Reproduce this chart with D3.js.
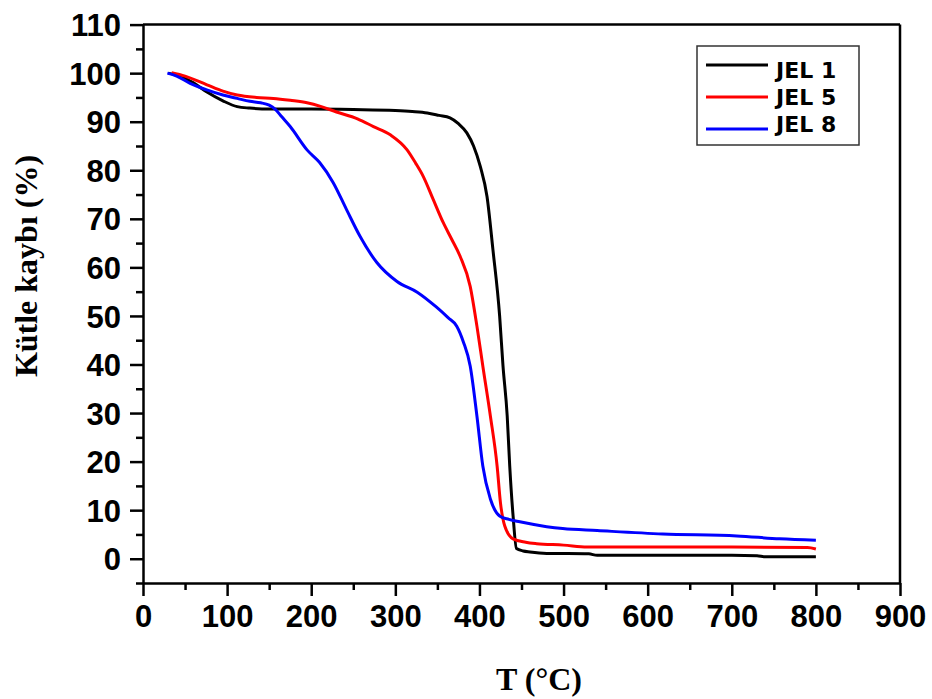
<!DOCTYPE html>
<html>
<head>
<meta charset="utf-8">
<script src="https://cdn.jsdelivr.net/npm/d3@7"></script>
<style>
  body { margin: 0; background: #fff; }
  .tick-label { font-family: "Liberation Sans", Arial, sans-serif; font-weight: bold; font-size: 31px; fill: #000; }
  .title { font-family: "Liberation Serif", "Times New Roman", serif; font-weight: bold; font-size: 32px; fill: #000; }
  .legend-text { font-family: "DejaVu Sans", Verdana, sans-serif; font-weight: bold; font-size: 22px; fill: #000; }
</style>
</head>
<body>
<svg id="chart" width="932" height="699"></svg>
<script>
// series names and colours
var seriesNames = ["JEL 1", "JEL 5", "JEL 8"];
var seriesColors = ["#000000", "#ff0000", "#0000ff"];

// JEL 1 (black)
var jel1T = [30, 45, 60, 76, 95, 112, 127, 150, 200, 250, 300, 320, 338, 352, 365, 375, 385, 393, 401, 409, 416, 424, 428, 433, 436, 440, 444, 452, 460, 480, 530, 540, 600, 700, 730, 740, 800];
var jel1V = [100, 99.3, 98, 96.1, 94.3, 93.1, 92.8, 92.6, 92.6, 92.5, 92.3, 92.1, 91.8, 91.3, 90.8, 89.6, 87.7, 85, 80.8, 74.6, 63.7, 50, 39.7, 29.4, 19.1, 8.8, 2.1, 1.6, 1.4, 1.1, 1.0, 0.7, 0.7, 0.7, 0.6, 0.4, 0.4];

// JEL 5 (red)
var jel5T = [34, 50, 76, 95, 112, 135, 155, 175, 195, 212, 230, 255, 274, 294, 314, 324, 333, 345, 357, 367, 377, 389, 397, 404, 413, 421, 425, 430, 440, 455, 468, 500, 528, 600, 700, 790, 800];
var jel5V = [100.1, 99.4, 97.6, 96.3, 95.5, 95.0, 94.8, 94.4, 93.9, 93.1, 92.0, 90.6, 89.0, 87.3, 84.2, 81.5, 78.8, 74, 69.2, 65.8, 62.3, 56.1, 47.9, 39.7, 29.4, 19.1, 11.5, 6.8, 4.1, 3.4, 3.1, 2.8, 2.4, 2.4, 2.4, 2.3, 2.0];

// JEL 8 (blue)
var jel8T = [29, 40, 56, 75, 95, 112, 127, 140, 150, 157, 165, 175, 195, 210, 226, 242, 258, 278, 302, 326, 349, 363, 373, 381, 389, 397, 404, 413, 424, 435, 448, 480, 499, 540, 618, 706, 757, 800];
var jel8V = [100, 99.4, 97.9, 96.6, 95.5, 94.8, 94.2, 93.9, 93.4, 92.6, 91.0, 89.0, 84.2, 81.6, 77.5, 71.9, 66.4, 61.0, 57.1, 54.9, 51.8, 49.6, 47.9, 44.6, 39.7, 29.4, 19.1, 12.3, 8.8, 8.1, 7.6, 6.6, 6.2, 5.8, 5.1, 4.7, 4.1, 3.8];

// tick values
var xTicks = [0, 100, 200, 300, 400, 500, 600, 700, 800, 900];
var xMinorTicks = [50, 150, 250, 350, 450, 550, 650, 750, 850];
var yTicks = [0, 10, 20, 30, 40, 50, 60, 70, 80, 90, 100, 110];
var yMinorTicks = [-5, 5, 15, 25, 35, 45, 55, 65, 75, 85, 95, 105];

var xLabel = "T (\u00B0C)";
var yLabel = "K\u00FCtle kayb\u0131 (%)";

var plotLeft = 143, plotRight = 900, plotTop = 24.6, plotBottom = 583;

var svg = d3.select("#chart");
svg.append("rect").attr("width", 932).attr("height", 699).attr("fill", "#fff");

var x = d3.scaleLinear().domain([0, 900]).range([plotLeft, plotRight]);
var y = d3.scaleLinear().domain([-5, 110]).range([plotBottom, plotTop]);

// frame top + right
svg.append("line").attr("x1", plotLeft).attr("x2", plotRight).attr("y1", plotTop).attr("y2", plotTop)
    .attr("stroke", "#000").attr("stroke-width", 2.5);
svg.append("line").attr("x1", plotRight).attr("x2", plotRight).attr("y1", plotTop).attr("y2", plotBottom)
    .attr("stroke", "#000").attr("stroke-width", 2.5);

// minor ticks
svg.append("g").attr("transform", "translate(0," + plotBottom + ")")
    .call(d3.axisBottom(x).tickValues(xMinorTicks).tickSize(7).tickFormat("").tickSizeOuter(0))
    .call(function(g) { g.select(".domain").remove(); })
    .selectAll("line").attr("stroke-width", 2.5);
svg.append("g").attr("transform", "translate(" + plotLeft + ",0)")
    .call(d3.axisLeft(y).tickValues(yMinorTicks).tickSize(7).tickFormat("").tickSizeOuter(0))
    .call(function(g) { g.select(".domain").remove(); })
    .selectAll("line").attr("stroke-width", 2.5);

// major axes
var xAxis = svg.append("g").attr("transform", "translate(0," + plotBottom + ")")
    .call(d3.axisBottom(x).tickValues(xTicks).tickSize(13).tickSizeOuter(0));
xAxis.select(".domain").attr("stroke-width", 2.5);
xAxis.selectAll("line").attr("stroke-width", 2.5);
xAxis.selectAll("text").attr("class", "tick-label").attr("y", 44).attr("dy", 0);

var yAxis = svg.append("g").attr("transform", "translate(" + plotLeft + ",0)")
    .call(d3.axisLeft(y).tickValues(yTicks).tickSize(13).tickSizeOuter(0));
yAxis.select(".domain").attr("stroke-width", 2.5);
yAxis.selectAll("line").attr("stroke-width", 2.5);
yAxis.selectAll("text").attr("class", "tick-label").attr("x", -22).attr("dy", "0.36em");

// curves
var series = [
    { name: seriesNames[0], t: jel1T, v: jel1V },
    { name: seriesNames[1], t: jel5T, v: jel5V },
    { name: seriesNames[2], t: jel8T, v: jel8V }
];
var line = d3.line()
    .x(function(d) { return x(d[0]); })
    .y(function(d) { return y(d[1]); })
    .curve(d3.curveMonotoneX);

series.forEach(function(s, i) {
    var pts = s.t.map(function(t, j) { return [t, s.v[j]]; });
    svg.append("path")
        .datum(pts)
        .attr("d", line)
        .attr("fill", "none")
        .attr("stroke", seriesColors[i])
        .attr("stroke-width", 3)
        .attr("stroke-linejoin", "round");
});

// legend
var legend = svg.append("g");
legend.append("rect").attr("x", 697).attr("y", 46).attr("width", 162).attr("height", 99)
    .attr("fill", "#fff").attr("stroke", "#333").attr("stroke-width", 1.5);
series.forEach(function(s, i) {
    legend.append("line")
        .attr("x1", 706).attr("x2", 768)
        .attr("y1", 65 + i * 32).attr("y2", 65 + i * 32)
        .attr("stroke", seriesColors[i]).attr("stroke-width", 3);
    legend.append("text")
        .attr("class", "legend-text")
        .attr("x", 776).attr("y", 78 + i * 27)
        .text(s.name);
});

// axis titles
svg.append("text").attr("class", "title")
    .attr("x", 539).attr("y", 690).attr("text-anchor", "middle")
    .text(xLabel);
svg.append("text").attr("class", "title")
    .attr("transform", "translate(37,266) rotate(-90)")
    .attr("text-anchor", "middle")
    .text(yLabel);
</script>
</body>
</html>
